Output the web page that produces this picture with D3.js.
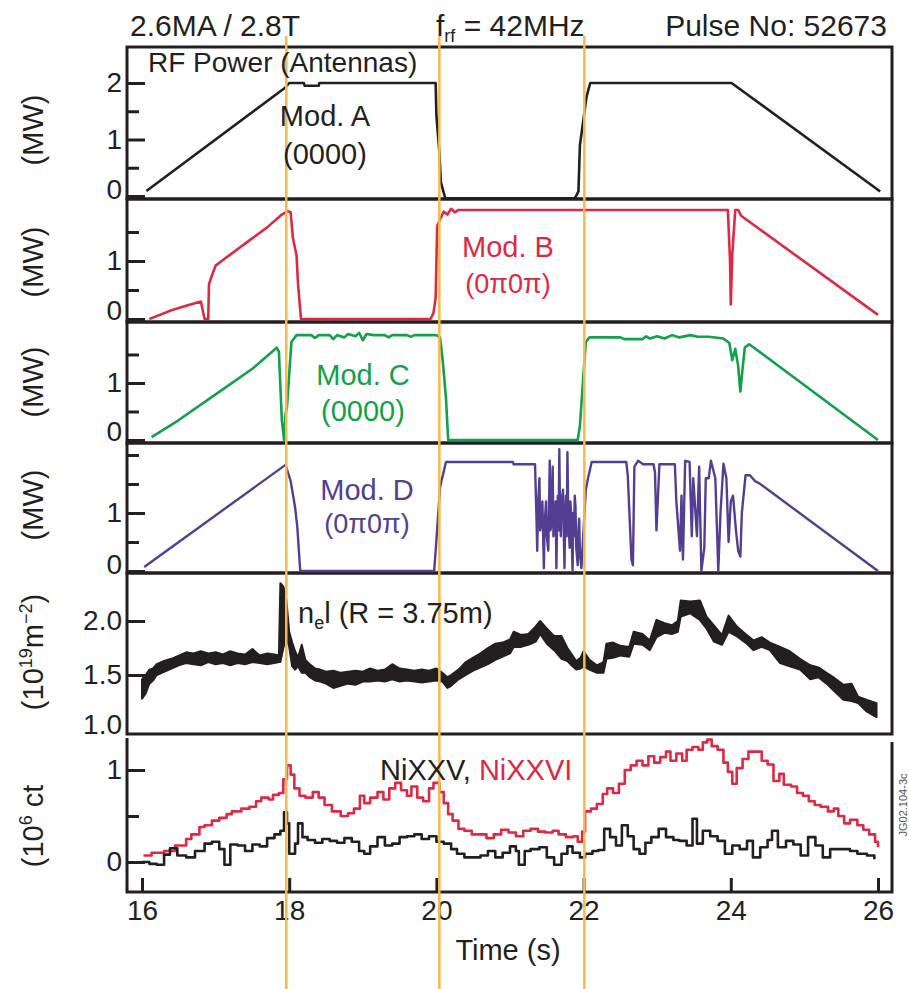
<!DOCTYPE html>
<html>
<head>
<meta charset="utf-8">
<script src="https://cdn.jsdelivr.net/npm/d3@7"></script>
<style>
    body { margin: 0; background: #fff; }
    text { font-family: "Liberation Sans", Arial, Helvetica, sans-serif; fill: #231f20; }
</style>
</head>
<body>
<script>

//données (temps en s, valeur)
const modA = [[16.06, 0.09], [17.94, 1.91], [18.00, 2.0], [18.20, 2.0], [18.21, 1.95], [18.40, 1.95], [18.41, 2.0],
    [19.99, 2.0], [20.00, 1.43], [20.04, 0.78], [20.06, 0.25], [20.12, -0.04], [21.88, -0.04], [21.93, 0.08],
    [21.95, 0.90], [22.04, 1.76], [22.09, 2.0], [24.01, 2.0], [26.03, 0.08]]

const modB = [[16.10, 0.0], [16.20, 0.05], [16.40, 0.15], [16.60, 0.23], [16.80, 0.30], [16.82, 0.18], [16.85, 0.0],
    [16.90, 0.0], [16.91, 0.60], [16.95, 0.75], [17.00, 0.92], [17.05, 0.97], [17.40, 1.30], [17.70, 1.58],
    [17.90, 1.80], [17.98, 1.86], [18.02, 1.84], [18.05, 1.40], [18.10, 1.10], [18.12, 0.60], [18.16, 0.0],
    [19.92, 0.0], [19.96, 0.10], [19.99, 0.37], [20.01, 1.60], [20.05, 1.72], [20.10, 1.85], [20.15, 1.80],
    [20.20, 1.90], [20.25, 1.84], [20.30, 1.88], [23.96, 1.88], [23.99, 1.0], [24.00, 0.25], [24.02, 1.10],
    [24.06, 1.88], [24.10, 1.88], [24.14, 1.78], [26.00, 0.07]]

const modC = [[16.13, 0.05], [16.50, 0.35], [17.00, 0.80], [17.50, 1.25], [17.83, 1.62], [17.86, 1.55], [17.90, 0.35],
    [17.93, 0.0], [17.95, 0.45], [17.97, 0.58], [18.03, 1.72], [18.10, 1.84], [18.30, 1.84], [18.35, 1.79],
    [18.40, 1.84], [18.55, 1.84], [18.60, 1.77], [18.65, 1.84], [18.75, 1.80], [18.80, 1.86], [18.90, 1.82],
    [18.95, 1.88], [19.00, 1.75], [19.05, 1.86], [19.15, 1.84], [19.30, 1.84], [19.35, 1.80], [19.40, 1.84],
    [19.60, 1.84], [19.65, 1.81], [19.70, 1.84], [20.00, 1.84], [20.05, 1.80], [20.09, 1.34], [20.13, 0.73],
    [20.16, 0.0], [21.92, 0.0], [21.95, 0.25], [21.99, 1.0], [22.03, 1.72], [22.08, 1.80], [22.50, 1.80],
    [22.55, 1.77], [22.80, 1.77], [22.85, 1.82], [22.90, 1.78], [23.00, 1.82], [23.10, 1.78], [23.20, 1.84],
    [23.30, 1.80], [23.45, 1.84], [23.55, 1.81], [23.70, 1.81], [23.90, 1.78], [23.98, 1.70], [24.02, 1.40],
    [24.06, 1.60], [24.10, 1.30], [24.13, 0.85], [24.16, 1.25], [24.19, 1.62], [24.25, 1.68], [26.00, 0.0]]

const modD = [[16.03, 0.07], [17.95, 1.83], [18.02, 1.55], [18.08, 1.10], [18.11, 0.76], [18.15, 0.0], [19.97, 0.0],
    [20.00, 0.53], [20.05, 1.45], [20.13, 1.88], [21.04, 1.88], [21.05, 1.84], [21.34, 1.84], [21.35, 1.37],
    [21.36, 0.90], [21.37, 0.35], [21.38, 1.10], [21.40, 1.60], [21.41, 0.70], [21.43, 0.90], [21.44, 1.20],
    [21.46, 0.05], [21.47, 0.80], [21.49, 1.20], [21.50, 0.60], [21.52, 0.35], [21.53, 1.10], [21.54, 1.90],
    [21.55, 0.70], [21.56, 0.80], [21.57, 1.25], [21.58, 1.80], [21.59, 0.60], [21.61, 0.90], [21.62, 1.20],
    [21.63, 0.05], [21.64, 0.90], [21.65, 1.30], [21.66, 0.70], [21.67, 2.10], [21.68, 1.00], [21.69, 0.60],
    [21.70, 1.20], [21.72, 1.40], [21.73, 0.70], [21.74, 0.05], [21.75, 0.90], [21.76, 1.30], [21.77, 0.60],
    [21.78, 2.05], [21.79, 1.10], [21.81, 0.40], [21.82, 1.20], [21.83, 1.00], [21.84, 0.50], [21.85, 0.0],
    [21.86, 1.00], [21.87, 0.60], [21.88, 1.30], [21.89, 1.10], [21.90, 0.40], [21.92, 0.10], [21.93, 0.70],
    [21.94, 0.90], [21.95, 0.30], [21.97, 0.05], [21.99, 0.50], [22.03, 1.40],
    [22.06, 1.60], [22.11, 1.88], [22.58, 1.88], [22.60, 1.65], [22.65, 0.20], [22.67, 0.10], [22.69, 1.80],
    [22.74, 1.90], [22.81, 1.84], [22.95, 1.84], [22.97, 1.70], [22.99, 0.70], [23.03, 1.84], [23.24, 1.84],
    [23.26, 1.20], [23.31, 0.35], [23.33, 1.30], [23.35, 0.20], [23.38, 1.90], [23.44, 1.88], [23.47, 0.60],
    [23.49, 1.60], [23.54, 0.60], [23.57, 1.80], [23.60, 0.0], [23.64, 0.40], [23.66, 1.60], [23.70, 1.60],
    [23.73, 1.90], [23.79, 1.60], [23.83, 0.0], [23.86, 1.00], [23.90, 1.85], [23.94, 1.60], [23.97, 0.50],
    [24.00, 1.20], [24.03, 1.30], [24.07, 0.70], [24.10, 0.35], [24.13, 0.25], [24.15, 1.00], [24.20, 1.65],
    [24.26, 1.65], [24.33, 1.55], [24.40, 1.50], [26.00, 0.0]]

//densité : [temps, bas, haut] de la bande bruitée
const densite = [[16.00, 1.28, 1.46], [16.05, 1.33, 1.50], [16.10, 1.42, 1.55], [16.15, 1.45, 1.56], [16.20, 1.50, 1.60],
    [16.30, 1.53, 1.63], [16.40, 1.56, 1.65], [16.50, 1.59, 1.68], [16.60, 1.61, 1.71], [16.70, 1.60, 1.70],
    [16.80, 1.59, 1.72], [16.90, 1.62, 1.70], [17.00, 1.60, 1.71], [17.10, 1.61, 1.69], [17.20, 1.59, 1.72],
    [17.30, 1.61, 1.70], [17.40, 1.60, 1.69], [17.50, 1.62, 1.74], [17.60, 1.61, 1.68], [17.70, 1.60, 1.70],
    [17.80, 1.61, 1.69], [17.86, 1.62, 1.68], [17.88, 1.62, 2.35], [17.92, 1.75, 2.32], [17.96, 1.85, 2.20],
    [18.00, 1.76, 1.90], [18.04, 1.58, 1.80], [18.08, 1.55, 1.72], [18.12, 1.58, 1.66], [18.17, 1.52, 1.78],
    [18.22, 1.52, 1.64], [18.28, 1.48, 1.60], [18.35, 1.45, 1.56], [18.42, 1.44, 1.55], [18.50, 1.42, 1.53],
    [18.60, 1.38, 1.54], [18.70, 1.40, 1.52], [18.80, 1.42, 1.53], [18.90, 1.41, 1.54], [19.00, 1.44, 1.53],
    [19.10, 1.44, 1.56], [19.20, 1.45, 1.54], [19.30, 1.44, 1.55], [19.40, 1.46, 1.60], [19.50, 1.44, 1.56],
    [19.60, 1.45, 1.55], [19.70, 1.44, 1.54], [19.80, 1.43, 1.55], [19.90, 1.44, 1.54], [20.00, 1.45, 1.56],
    [20.08, 1.44, 1.52], [20.15, 1.38, 1.48], [20.20, 1.40, 1.50], [20.30, 1.46, 1.55], [20.40, 1.50, 1.62],
    [20.50, 1.54, 1.66], [20.60, 1.57, 1.70], [20.70, 1.60, 1.75], [20.80, 1.64, 1.79], [20.90, 1.67, 1.80],
    [21.00, 1.70, 1.83], [21.05, 1.76, 1.90], [21.15, 1.76, 1.87], [21.25, 1.78, 1.88], [21.35, 1.81, 1.95],
    [21.41, 1.88, 2.00], [21.50, 1.79, 1.93], [21.60, 1.73, 1.86], [21.70, 1.65, 1.86], [21.78, 1.63, 1.75],
    [21.85, 1.58, 1.68], [21.90, 1.55, 1.63], [21.96, 1.56, 1.66], [22.00, 1.58, 1.72], [22.08, 1.55, 1.64],
    [22.18, 1.52, 1.59], [22.27, 1.52, 1.62], [22.31, 1.65, 1.79], [22.40, 1.66, 1.80], [22.50, 1.68, 1.77],
    [22.62, 1.67, 1.76], [22.68, 1.79, 1.90], [22.80, 1.78, 1.88], [22.90, 1.73, 1.82], [22.99, 1.85, 2.01],
    [23.10, 1.89, 1.98], [23.20, 1.88, 1.96], [23.28, 1.90, 2.00], [23.32, 2.04, 2.19], [23.45, 2.07, 2.18],
    [23.58, 2.01, 2.19], [23.67, 1.93, 2.04], [23.77, 1.81, 1.96], [23.88, 1.78, 1.87], [23.97, 1.90, 2.05],
    [24.08, 1.86, 1.95], [24.20, 1.80, 1.88], [24.31, 1.73, 1.82], [24.42, 1.76, 1.85], [24.53, 1.73, 1.80],
    [24.67, 1.61, 1.76], [24.80, 1.58, 1.72], [24.94, 1.55, 1.65], [25.08, 1.46, 1.59], [25.19, 1.48, 1.57],
    [25.30, 1.42, 1.52], [25.39, 1.36, 1.48], [25.53, 1.27, 1.41], [25.64, 1.26, 1.42], [25.73, 1.24, 1.30],
    [25.85, 1.16, 1.27], [25.98, 1.11, 1.24]]

const niXXV = [[16.00, 0.0], [16.10, -0.02], [16.20, -0.03], [16.30, 0.08], [16.38, 0.15], [16.48, 0.07], [16.60, 0.05],
    [16.72, 0.12], [16.85, 0.20], [16.95, 0.22], [17.05, 0.14], [17.12, -0.03], [17.20, 0.19], [17.30, 0.18],
    [17.40, 0.12], [17.50, 0.19], [17.60, 0.17], [17.70, 0.26], [17.80, 0.30], [17.88, 0.34], [17.93, 0.54],
    [17.97, 0.42], [18.00, 0.09], [18.08, 0.20], [18.12, 0.42], [18.18, 0.27], [18.25, 0.24], [18.35, 0.21],
    [18.45, 0.25], [18.55, 0.23], [18.65, 0.21], [18.75, 0.26], [18.85, 0.22], [18.95, 0.12], [19.02, 0.09],
    [19.10, 0.17], [19.20, 0.27], [19.30, 0.18], [19.40, 0.20], [19.50, 0.27], [19.60, 0.28], [19.70, 0.30],
    [19.80, 0.25], [19.90, 0.28], [20.00, 0.22], [20.10, 0.20], [20.20, 0.14], [20.28, 0.09], [20.38, 0.05],
    [20.50, 0.05], [20.60, 0.07], [20.70, 0.12], [20.80, 0.05], [20.90, 0.10], [21.00, 0.17], [21.08, 0.12],
    [21.12, -0.03], [21.20, 0.12], [21.28, 0.14], [21.40, 0.16], [21.50, 0.05], [21.60, -0.03], [21.70, 0.09],
    [21.78, 0.17], [21.85, 0.10], [21.95, 0.05], [22.02, 0.09], [22.12, 0.12], [22.20, 0.13], [22.28, 0.36],
    [22.36, 0.27], [22.44, 0.18], [22.52, 0.40], [22.60, 0.28], [22.68, 0.14], [22.76, 0.09], [22.84, 0.21],
    [22.92, 0.27], [23.02, 0.36], [23.12, 0.27], [23.22, 0.24], [23.30, 0.23], [23.40, 0.18], [23.48, 0.47],
    [23.54, 0.20], [23.62, 0.34], [23.72, 0.28], [23.82, 0.23], [23.92, 0.09], [24.02, 0.18], [24.12, 0.14],
    [24.22, 0.23], [24.30, 0.05], [24.40, 0.16], [24.50, 0.24], [24.56, 0.34], [24.64, 0.16], [24.75, 0.23],
    [24.85, 0.19], [24.95, 0.07], [25.05, 0.27], [25.15, 0.18], [25.25, 0.05], [25.35, 0.14], [25.50, 0.14],
    [25.62, 0.12], [25.72, 0.09], [25.85, 0.07], [25.95, 0.03]]

const niXXVI = [[16.02, 0.07], [16.13, 0.10], [16.30, 0.12], [16.45, 0.18], [16.60, 0.25], [16.67, 0.30], [16.78, 0.38],
    [16.85, 0.40], [16.95, 0.45], [17.05, 0.48], [17.15, 0.52], [17.22, 0.55], [17.35, 0.58], [17.46, 0.60],
    [17.55, 0.66], [17.62, 0.70], [17.72, 0.68], [17.78, 0.73], [17.86, 0.75], [17.92, 0.90], [17.97, 1.05],
    [18.02, 0.95], [18.07, 0.80], [18.14, 0.72], [18.22, 0.70], [18.32, 0.76], [18.40, 0.70], [18.48, 0.62],
    [18.58, 0.55], [18.70, 0.50], [18.80, 0.53], [18.88, 0.58], [18.96, 0.72], [19.02, 0.64], [19.10, 0.70],
    [19.20, 0.76], [19.28, 0.68], [19.36, 0.80], [19.44, 0.86], [19.52, 0.78], [19.60, 0.72], [19.66, 0.82],
    [19.74, 0.70], [19.82, 0.66], [19.90, 0.80], [19.96, 0.86], [20.04, 0.76], [20.10, 0.64], [20.16, 0.52],
    [20.22, 0.45], [20.30, 0.36], [20.38, 0.34], [20.48, 0.30], [20.58, 0.30], [20.68, 0.26], [20.78, 0.30],
    [20.88, 0.35], [20.98, 0.32], [21.08, 0.28], [21.18, 0.34], [21.28, 0.36], [21.38, 0.33], [21.48, 0.32],
    [21.58, 0.34], [21.66, 0.30], [21.76, 0.27], [21.86, 0.28], [21.92, 0.22], [21.98, 0.33], [22.02, 0.55],
    [22.10, 0.58], [22.18, 0.63], [22.26, 0.74], [22.32, 0.80], [22.40, 0.75], [22.48, 0.85], [22.56, 1.00],
    [22.64, 1.05], [22.72, 1.10], [22.80, 1.05], [22.88, 1.15], [22.96, 1.08], [23.04, 1.14], [23.12, 1.20],
    [23.18, 1.10], [23.26, 1.18], [23.34, 1.10], [23.40, 1.22], [23.48, 1.25], [23.56, 1.22], [23.62, 1.30],
    [23.68, 1.33], [23.74, 1.26], [23.82, 1.22], [23.90, 1.08], [23.96, 0.98], [24.02, 0.85], [24.08, 1.02],
    [24.16, 1.12], [24.24, 1.20], [24.34, 1.20], [24.42, 1.10], [24.50, 1.06], [24.58, 0.88], [24.66, 0.96],
    [24.72, 0.84], [24.82, 0.82], [24.90, 0.75], [24.98, 0.72], [25.06, 0.66], [25.14, 0.62], [25.22, 0.60],
    [25.32, 0.55], [25.40, 0.58], [25.46, 0.50], [25.54, 0.42], [25.62, 0.46], [25.72, 0.40], [25.80, 0.35],
    [25.88, 0.30], [25.96, 0.22], [26.00, 0.16]]

//instants de commutation (lignes orange)
const commutations = [17.96, 20.04, 22.01]

//graduations
const ticksTemps = [16, 18, 20, 22, 24, 26]
const ticksA = [0, 0.5, 1, 1.5, 2], labelsA = [0, 1, 2]
const ticksBC = [0, 0.5, 1, 1.5], labelsBC = [0, 1]
const ticksD = [0, 0.5, 1, 1.5, 2], labelsD = [0, 1]
const ticksE = [1.0, 1.5, 2.0], labelsE = [1.0, 1.5, 2.0]
const ticksF = [0, 0.5, 1], labelsF = [0, 1]


//Dimensions
let width = 909, height = 989;
let left = 127, right = 892;
let encre = "#231f20";

let svg = d3.select("body")
    .append("svg")
    .attr("width", width)
    .attr("height", height)

//échelle des temps commune
let x = d3.scaleLinear()
    .domain([16, 26])
    .range([142, 878]);

//échelles verticales (une par panneau)
let yA = d3.scaleLinear().domain([-0.053, 2.637]).range([199, 47]);
let yB = d3.scaleLinear().domain([-0.052, 2.069]).range([322, 199]);
let yC = d3.scaleLinear().domain([-0.053, 2.07]).range([443, 322]);
let yD = d3.scaleLinear().domain([-0.034, 2.207]).range([573, 443]);
let yE = d3.scaleLinear().domain([0.954, 2.444]).range([734, 573]);
let yF = d3.scaleLinear().domain([-0.326, 1.348]).range([892, 738]);


//cadres
[[47, 199], [199, 322], [322, 443], [443, 573], [573, 734]].forEach(p => {
    svg.append("rect")
        .attr("x", left)
        .attr("y", p[0])
        .attr("width", right - left)
        .attr("height", p[1] - p[0])
        .attr("fill", "none")
        .attr("stroke", encre)
        .attr("stroke-width", 3)
})

//dernier panneau : ouvert en haut
svg.append("path")
    .attr("d", "M" + left + ",738 V892 H" + right + " V742")
    .attr("fill", "none")
    .attr("stroke", encre)
    .attr("stroke-width", 3)


//axes verticaux
function axeY(y, valeurs, labels, fmt, decale) {
    let g = svg.append("g")
        .attr("transform", "translate(" + left + ",0)")
        .call(d3.axisLeft(y)
            .tickValues(valeurs)
            .tickSize(-18)
            .tickPadding(5)
            .tickFormat(d => labels.includes(d) ? fmt(d) : ""))
    g.select(".domain").remove()
    g.selectAll(".tick line")
        .attr("stroke", encre)
        .attr("stroke-width", 3)
        .attr("x2", d => labels.includes(d) ? 18 : 12)
    g.selectAll(".tick text")
        .attr("fill", encre)
        .style("font-size", "28px")
        .attr("y", d => d == valeurs[0] ? -decale : 0)
    return g
}

axeY(yA, ticksA, labelsA, d3.format("d"), 6)
axeY(yB, ticksBC, labelsBC, d3.format("d"), 8)
axeY(yC, ticksBC, labelsBC, d3.format("d"), 8)
axeY(yD, ticksD, labelsD, d3.format("d"), 6)
axeY(yE, ticksE, labelsE, d3.format(".1f"), 4)
    .selectAll(".tick line").filter(d => d == 1.0).remove()
axeY(yF, ticksF, labelsF, d3.format("d"), 0)

//axe du temps
let axeX = svg.append("g")
    .attr("transform", "translate(0,892)")
    .call(d3.axisBottom(x)
        .tickValues(ticksTemps)
        .tickSize(-14)
        .tickPadding(8)
        .tickFormat(d3.format("d")))
axeX.select(".domain").remove()
axeX.selectAll(".tick line").attr("stroke", encre).attr("stroke-width", 3)
axeX.selectAll(".tick text").attr("fill", encre).style("font-size", "28px")


//courbes
function trace(data, y, couleur, courbe, epaisseur) {
    svg.append("path")
        .datum(data)
        .attr("fill", "none")
        .attr("stroke", couleur)
        .attr("stroke-width", epaisseur || 2.6)
        .attr("stroke-linejoin", "round")
        .attr("d", d3.line()
            .x(d => x(d[0]))
            .y(d => y(d[1]))
            .curve(courbe || d3.curveLinear))
}

trace(modA, yA, "#231f20")
trace(modB, yB, "#dc2a44")
trace(modC, yC, "#13a04b")
trace(modD, yD, "#523f91", d3.curveLinear, 2.4)

//bande de densité
svg.append("path")
    .datum(densite)
    .attr("fill", encre)
    .attr("stroke", encre)
    .attr("stroke-width", 2)
    .attr("stroke-linejoin", "round")
    .attr("d", d3.area()
        .x(d => x(d[0]))
        .y0(d => yE(d[1]))
        .y1(d => yE(d[2])))

trace(niXXVI, yF, "#dc2a44", d3.curveStepAfter)
trace(niXXV, yF, "#231f20", d3.curveStepAfter)


//lignes orange
svg.selectAll("orange")
    .data(commutations)
    .enter()
    .append("line")
    .attr("x1", d => x(d))
    .attr("x2", d => x(d))
    .attr("y1", 36)
    .attr("y2", height)
    .attr("stroke", "#fbb848")
    .attr("stroke-width", 2.5)


//textes
function texte(t, px, py, taille, couleur, ancre) {
    return svg.append("text")
        .text(t)
        .attr("x", px)
        .attr("y", py)
        .attr("text-anchor", ancre || "start")
        .style("font-size", taille + "px")
        .style("fill", couleur || encre)
}

texte("2.6MA / 2.8T", 130, 36, 30)
texte("Pulse No: 52673", 887, 36, 30, encre, "end")

let frf = svg.append("text")
    .attr("x", 436)
    .attr("y", 36)
    .style("font-size", "30px")
frf.append("tspan").text("f")
frf.append("tspan").text("rf").attr("dy", 6).style("font-size", "18px")
frf.append("tspan").text(" = 42MHz").attr("dy", -6)

texte("RF Power (Antennas)", 148, 72, 28)
texte("Mod. A", 325, 126, 29, encre, "middle")
texte("(0000)", 325, 164, 29, encre, "middle")
texte("Mod. B", 508, 257, 29, "#dc2a44", "middle")
texte("(0\u03c00\u03c0)", 508, 293, 27, "#dc2a44", "middle")
texte("Mod. C", 363, 385, 29, "#13a04b", "middle")
texte("(0000)", 363, 421, 29, "#13a04b", "middle")
texte("Mod. D", 367, 500, 29, "#523f91", "middle")
texte("(0\u03c00\u03c0)", 367, 533, 27, "#523f91", "middle")

let ne = svg.append("text")
    .attr("x", 298)
    .attr("y", 623)
    .style("font-size", "29px")
ne.append("tspan").text("n")
ne.append("tspan").text("e").attr("dy", 6).style("font-size", "18px")
ne.append("tspan").text("l (R = 3.75m)").attr("dy", -6)

let ni = svg.append("text")
    .attr("x", 380)
    .attr("y", 780)
    .style("font-size", "29px")
ni.append("tspan").text("NiXXV, ")
ni.append("tspan").text("NiXXVI").style("fill", "#dc2a44")

texte("Time (s)", 508, 960, 29, encre, "middle")


//titres des axes verticaux
function titreY(py) {
    return svg.append("text")
        .attr("transform", "translate(33," + py + ") rotate(-90)")
        .attr("text-anchor", "middle")
        .attr("dy", "0.35em")
        .style("font-size", "29px")
}

[130, 262, 382, 505].forEach(py => titreY(py).text("(MW)"))

let tE = titreY(652)
tE.append("tspan").text("(10")
tE.append("tspan").text("19").attr("dy", -11).style("font-size", "18px")
tE.append("tspan").text("m").attr("dy", 11)
tE.append("tspan").text("\u22122").attr("dy", -11).style("font-size", "18px")
tE.append("tspan").text(")").attr("dy", 11)

let tF = titreY(826)
tF.append("tspan").text("(10")
tF.append("tspan").text("6").attr("dy", -11).style("font-size", "18px")
tF.append("tspan").text(" ct").attr("dy", 11)

//référence de la figure
svg.append("text")
    .text("JG02.104-3c")
    .attr("transform", "translate(903,805) rotate(-90)")
    .attr("text-anchor", "middle")
    .attr("dy", "0.35em")
    .style("font-size", "11px")
    .style("fill", "#555")

</script>
</body>
</html>
